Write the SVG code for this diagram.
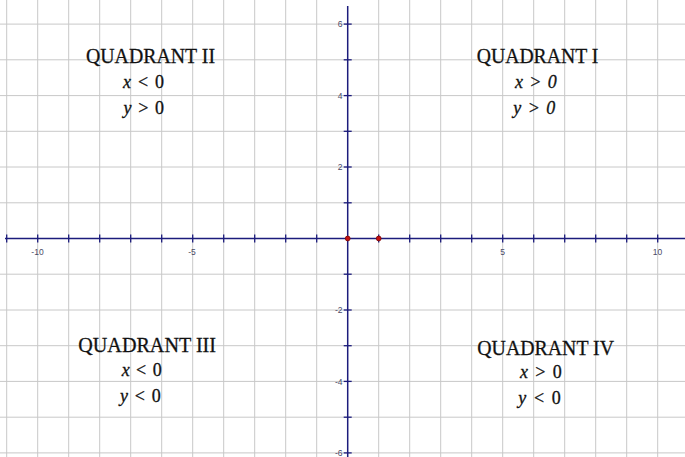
<svg xmlns="http://www.w3.org/2000/svg" width="685" height="457" viewBox="0 0 685 457">
<style>
.grid line{stroke:#c8c8c8;stroke-width:1}
.axis{stroke:#1c1c7c;stroke-width:1.5;fill:none}
.tick{stroke:#1c1c7c;stroke-width:1.3}
.tl{font-family:"Liberation Sans",Arial,sans-serif;font-size:8.5px;fill:#4a4a66}
.q{font-family:"Liberation Serif","Times New Roman",serif;font-size:22px;fill:#111;stroke:#111;stroke-width:0.3}
.m{font-family:"Liberation Serif","Times New Roman",serif;font-size:18px;fill:#111;stroke:#111;stroke-width:0.3}
.i{font-style:italic}
.pt{fill:#c41010;stroke:#7a0000;stroke-width:0.8}
</style>
<rect width="685" height="457" fill="#ffffff"/>
<g id="grid" class="grid">
<line x1="6.7" y1="0" x2="6.7" y2="457"/><line x1="37.7" y1="0" x2="37.7" y2="457"/><line x1="68.7" y1="0" x2="68.7" y2="457"/><line x1="99.7" y1="0" x2="99.7" y2="457"/><line x1="130.7" y1="0" x2="130.7" y2="457"/><line x1="161.7" y1="0" x2="161.7" y2="457"/><line x1="192.7" y1="0" x2="192.7" y2="457"/><line x1="223.7" y1="0" x2="223.7" y2="457"/><line x1="254.7" y1="0" x2="254.7" y2="457"/><line x1="285.7" y1="0" x2="285.7" y2="457"/><line x1="316.7" y1="0" x2="316.7" y2="457"/><line x1="378.7" y1="0" x2="378.7" y2="457"/><line x1="409.7" y1="0" x2="409.7" y2="457"/><line x1="440.7" y1="0" x2="440.7" y2="457"/><line x1="471.7" y1="0" x2="471.7" y2="457"/><line x1="502.7" y1="0" x2="502.7" y2="457"/><line x1="533.7" y1="0" x2="533.7" y2="457"/><line x1="564.7" y1="0" x2="564.7" y2="457"/><line x1="595.7" y1="0" x2="595.7" y2="457"/><line x1="626.7" y1="0" x2="626.7" y2="457"/><line x1="657.7" y1="0" x2="657.7" y2="457"/>
<line x1="0" y1="24.1" x2="685" y2="24.1"/><line x1="0" y1="59.8" x2="685" y2="59.8"/><line x1="0" y1="95.6" x2="685" y2="95.6"/><line x1="0" y1="131.3" x2="685" y2="131.3"/><line x1="0" y1="167.0" x2="685" y2="167.0"/><line x1="0" y1="202.8" x2="685" y2="202.8"/><line x1="0" y1="274.2" x2="685" y2="274.2"/><line x1="0" y1="310.0" x2="685" y2="310.0"/><line x1="0" y1="345.7" x2="685" y2="345.7"/><line x1="0" y1="381.4" x2="685" y2="381.4"/><line x1="0" y1="417.2" x2="685" y2="417.2"/><line x1="0" y1="452.9" x2="685" y2="452.9"/>
</g>
<g id="axes">
<line class="axis" x1="5" y1="238.5" x2="685" y2="238.5"/>
<line class="axis" x1="347.7" y1="6" x2="347.7" y2="457"/>
<g class="tick">
<line x1="6.7" y1="234.5" x2="6.7" y2="242.5"/><line x1="37.7" y1="234.5" x2="37.7" y2="242.5"/><line x1="68.7" y1="234.5" x2="68.7" y2="242.5"/><line x1="99.7" y1="234.5" x2="99.7" y2="242.5"/><line x1="130.7" y1="234.5" x2="130.7" y2="242.5"/><line x1="161.7" y1="234.5" x2="161.7" y2="242.5"/><line x1="192.7" y1="234.5" x2="192.7" y2="242.5"/><line x1="223.7" y1="234.5" x2="223.7" y2="242.5"/><line x1="254.7" y1="234.5" x2="254.7" y2="242.5"/><line x1="285.7" y1="234.5" x2="285.7" y2="242.5"/><line x1="316.7" y1="234.5" x2="316.7" y2="242.5"/><line x1="378.7" y1="234.5" x2="378.7" y2="242.5"/><line x1="409.7" y1="234.5" x2="409.7" y2="242.5"/><line x1="440.7" y1="234.5" x2="440.7" y2="242.5"/><line x1="471.7" y1="234.5" x2="471.7" y2="242.5"/><line x1="502.7" y1="234.5" x2="502.7" y2="242.5"/><line x1="533.7" y1="234.5" x2="533.7" y2="242.5"/><line x1="564.7" y1="234.5" x2="564.7" y2="242.5"/><line x1="595.7" y1="234.5" x2="595.7" y2="242.5"/><line x1="626.7" y1="234.5" x2="626.7" y2="242.5"/><line x1="657.7" y1="234.5" x2="657.7" y2="242.5"/>
<line x1="343.7" y1="24.1" x2="351.7" y2="24.1"/><line x1="343.7" y1="59.8" x2="351.7" y2="59.8"/><line x1="343.7" y1="95.6" x2="351.7" y2="95.6"/><line x1="343.7" y1="131.3" x2="351.7" y2="131.3"/><line x1="343.7" y1="167.0" x2="351.7" y2="167.0"/><line x1="343.7" y1="202.8" x2="351.7" y2="202.8"/><line x1="343.7" y1="274.2" x2="351.7" y2="274.2"/><line x1="343.7" y1="310.0" x2="351.7" y2="310.0"/><line x1="343.7" y1="345.7" x2="351.7" y2="345.7"/><line x1="343.7" y1="381.4" x2="351.7" y2="381.4"/><line x1="343.7" y1="417.2" x2="351.7" y2="417.2"/><line x1="343.7" y1="452.9" x2="351.7" y2="452.9"/>
</g>
<g class="tl">
<text x="37.5" y="254.8" text-anchor="middle">-10</text>
<text x="192" y="254.8" text-anchor="middle">-5</text>
<text x="502.5" y="254.8" text-anchor="middle">5</text>
<text x="657.5" y="254.8" text-anchor="middle">10</text>
<text x="342.5" y="27.2" text-anchor="end">6</text>
<text x="342.5" y="98.7" text-anchor="end">4</text>
<text x="342.5" y="170.2" text-anchor="end">2</text>
<text x="342.5" y="313.2" text-anchor="end">-2</text>
<text x="342.5" y="384.6" text-anchor="end">-4</text>
<text x="342.5" y="456" text-anchor="end">-6</text>
</g>
</g>
<g id="points">
<circle class="pt" cx="347.7" cy="238.5" r="2.4"/>
<circle class="pt" cx="378.7" cy="238.5" r="2.4"/>
</g>
<g id="quadrant-2">
<text class="q" x="86" y="63.3" textLength="129" lengthAdjust="spacingAndGlyphs">QUADRANT II</text>
<text class="m" x="123" y="87.7" textLength="41" lengthAdjust="spacing"><tspan class="i">x</tspan> &lt; 0</text>
<text class="m" x="123.5" y="114" textLength="40.5" lengthAdjust="spacing"><tspan class="i">y</tspan> &gt; 0</text>
</g>
<g id="quadrant-1">
<text class="q" x="476.7" y="63.3" textLength="121.7" lengthAdjust="spacingAndGlyphs">QUADRANT I</text>
<text class="m i" x="515" y="87.7" textLength="41.7" lengthAdjust="spacing">x &gt; 0</text>
<text class="m i" x="513.3" y="113.5" textLength="42" lengthAdjust="spacing">y &gt; 0</text>
</g>
<g id="quadrant-3">
<text class="q" x="78.3" y="351.7" textLength="137.7" lengthAdjust="spacingAndGlyphs">QUADRANT III</text>
<text class="m" x="121.7" y="376" textLength="40" lengthAdjust="spacing"><tspan class="i">x</tspan> &lt; 0</text>
<text class="m" x="120" y="401.7" textLength="40.7" lengthAdjust="spacing"><tspan class="i">y</tspan> &lt; 0</text>
</g>
<g id="quadrant-4">
<text class="q" x="477.3" y="355" textLength="136.7" lengthAdjust="spacingAndGlyphs">QUADRANT IV</text>
<text class="m" x="520" y="378.3" textLength="41.7" lengthAdjust="spacing"><tspan class="i">x</tspan> &gt; 0</text>
<text class="m" x="518.3" y="404" textLength="42.4" lengthAdjust="spacing"><tspan class="i">y</tspan> &lt; 0</text>
</g>
</svg>
